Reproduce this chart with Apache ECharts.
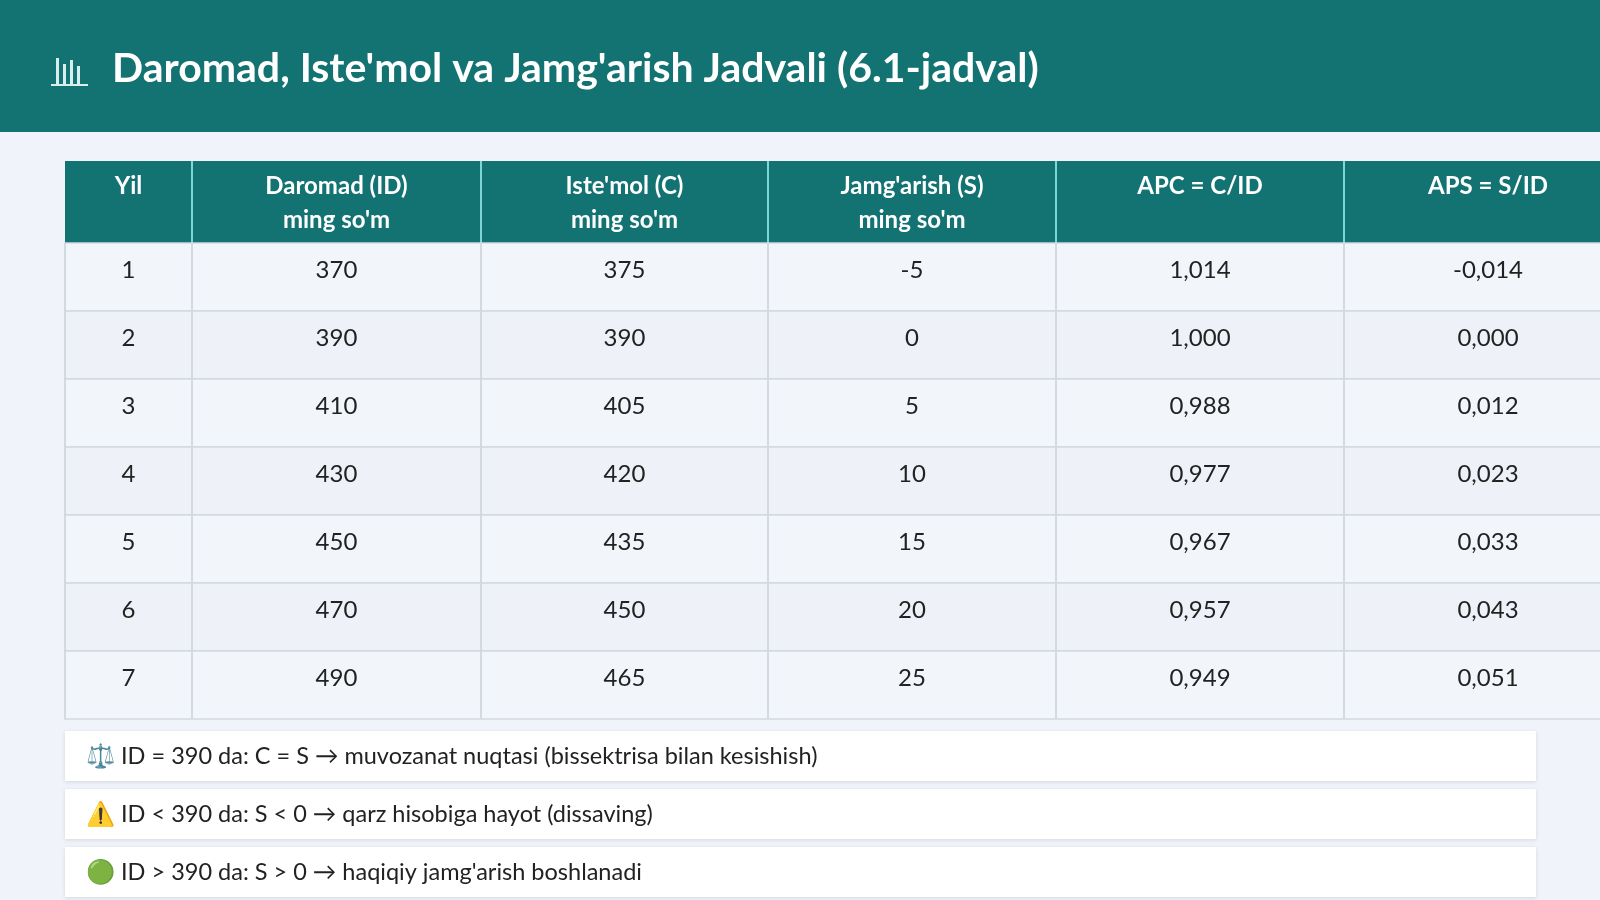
<!DOCTYPE html>
<html>
<head>
<meta charset="utf-8">
<script src="https://cdn.jsdelivr.net/npm/echarts@6/dist/echarts.min.js"></script>
<style>
  html, body { margin: 0; padding: 0; background: #f0f4fa; }
  #main { width: 1600px; height: 900px; }
</style>
</head>
<body>
<div id="main"></div>
<script>
var title = "Daromad, Iste'mol va Jamg'arish Jadvali (6.1-jadval)";
var headers = [["Yil"], ["Daromad (ID)", "ming so'm"], ["Iste'mol (C)", "ming so'm"],
  ["Jamg'arish (S)", "ming so'm"], ["APC = C/ID"], ["APS = S/ID"]];
var years = [1, 2, 3, 4, 5, 6, 7];
var income = [370, 390, 410, 430, 450, 470, 490];
var consumption = [375, 390, 405, 420, 435, 450, 465];
var saving = [-5, 0, 5, 10, 15, 20, 25];
var apc = ["1,014", "1,000", "0,988", "0,977", "0,967", "0,957", "0,949"];
var aps = ["-0,014", "0,000", "0,012", "0,023", "0,033", "0,043", "0,051"];
var notes = [
  "\u2696\uFE0F ID = 390 da: C = S \u2192 muvozanat nuqtasi (bissektrisa bilan kesishish)",
  "\u26A0\uFE0F ID < 390 da: S < 0 \u2192 qarz hisobiga hayot (dissaving)",
  "\uD83D\uDFE2 ID > 390 da: S > 0 \u2192 haqiqiy jamg'arish boshlanadi"
];

var teal = '#137272';
var colX = [65, 192, 481, 768, 1056, 1344, 1632];
var headTop = 161, headH = 82, rowH = 68;
var font = 'Lato, "Open Sans", sans-serif';

var myChart = echarts.init(document.getElementById('main'));
var g = [];

// header band
g.push({ type: 'rect', shape: { x: 0, y: 0, width: 1600, height: 132 }, style: { fill: teal } });
// bar icon
[[56, 58, 3, 26], [63, 64, 3, 20], [70, 60, 3, 24], [77, 66, 3, 18]].forEach(function (b) {
  g.push({ type: 'rect', shape: { x: b[0], y: b[1], width: b[2], height: b[3] }, style: { fill: '#d8eeee' } });
});
g.push({ type: 'rect', shape: { x: 51, y: 84, width: 37, height: 2 }, style: { fill: '#d8eeee' } });
g.push({ type: 'text', x: 112, y: 69, style: { text: title, fill: '#fff', font: 'bold 41px ' + font, verticalAlign: 'middle' } });

// table header
g.push({ type: 'rect', shape: { x: colX[0], y: headTop, width: colX[6] - colX[0], height: headH }, style: { fill: teal } });
headers.forEach(function (h, i) {
  var cx = (colX[i] + colX[i + 1]) / 2;
  g.push({ type: 'text', x: cx, y: headTop + 8, style: { text: h.join('\n'), fill: '#fff', font: 'bold 24px ' + font, align: 'center', verticalAlign: 'top', lineHeight: 34 } });
  if (i > 0) g.push({ type: 'rect', shape: { x: colX[i] - 1, y: headTop, width: 2, height: headH }, style: { fill: '#7fd6d6' } });
});

// body rows
var bodyTop = headTop + headH;
years.forEach(function (yr, r) {
  var y = bodyTop + r * rowH;
  var vals = [yr, income[r], consumption[r], saving[r], apc[r], aps[r]];
  g.push({ type: 'rect', shape: { x: colX[0], y: y, width: colX[6] - colX[0], height: rowH }, style: { fill: r % 2 ? '#eef2f8' : '#f2f5fa', stroke: '#d3d9e1', lineWidth: 1.5 } });
  vals.forEach(function (v, i) {
    var cx = (colX[i] + colX[i + 1]) / 2;
    g.push({ type: 'text', x: cx, y: y + 27, style: { text: String(v), fill: '#222', font: '24px ' + font, align: 'center', verticalAlign: 'middle' } });
    if (i > 0) g.push({ type: 'rect', shape: { x: colX[i] - 1, y: y, width: 2, height: rowH }, style: { fill: '#d3d9e1' } });
  });
});
g.push({ type: 'rect', shape: { x: colX[0] - 1, y: bodyTop, width: 2, height: rowH * years.length }, style: { fill: '#d3d9e1' } });

// notes
notes.forEach(function (n, i) {
  var y = 731 + i * 58;
  g.push({ type: 'rect', shape: { x: 65, y: y, width: 1471, height: 50 }, style: { fill: '#fff', shadowBlur: 4, shadowColor: 'rgba(0,0,0,0.12)', shadowOffsetY: 1 } });
  g.push({ type: 'text', x: 86, y: y + 25, style: { text: n, fill: '#222', font: '23.5px ' + font, verticalAlign: 'middle' } });
});

myChart.setOption({ animation: false, graphic: { elements: g } });
</script>
</body>
</html>
